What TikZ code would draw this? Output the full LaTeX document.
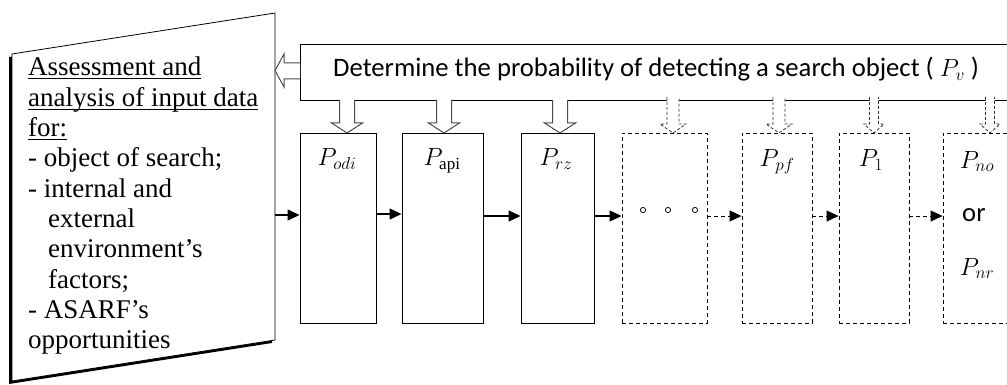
\documentclass[tikz,border=0pt]{standalone}
\usepackage{fontspec}
\setmainfont{Liberation Serif}
\newfontfamily\serf{Liberation Serif}
\newfontfamily\carl{Carlito}[Scale=1.16]
\usetikzlibrary{arrows.meta,calc}
\newcommand{\myul}[1]{\setbox0\hbox{#1}\rlap{\rule[-3.5pt]{\wd0}{1.1pt}}\box0}
% hollow down arrow: x, ytop, ytip, shaft half, head half, head length, options
\newcommand{\hdown}[7]{%
  \draw[#7] ({#1-#4},#2) -- ({#1-#4},{#3-#6}) -- ({#1-#5},{#3-#6}) -- (#1,#3)
    -- ({#1+#5},{#3-#6}) -- ({#1+#4},{#3-#6}) -- ({#1+#4},#2);}
\begin{document}
\begin{tikzpicture}[x=1pt,y=-1pt,
  solidbox/.style={draw=black, line width=0.9pt, inner sep=0pt},
  dashbox/.style={draw=black, line width=0.9pt, inner sep=0pt, dash pattern=on 4pt off 3pt},
  arr/.style={line width=1.1pt, -{Triangle[length=12pt,width=11pt]}},
  darr/.style={line width=1pt, dash pattern=on 4pt off 3pt, -{Triangle[length=12pt,width=11pt]}},
  hollow/.style={draw=black!70, line width=1pt, fill=white},
  dhollow/.style={draw=black!80, line width=0.8pt, fill=white, dash pattern=on 3pt off 2pt},
  lefttext/.style={anchor=base west, inner sep=0pt, font=\serf\fontsize{27}{30}\selectfont},
  plabel/.style={anchor=base, inner sep=0pt, font=\serf\fontsize{23}{26}\selectfont},
]
\useasboundingbox (0,0) rectangle (1007,385);
\clip (0,0) rectangle (1007,385);
\fill[white] (0,0) rectangle (1007,385);

% input shape with shadow
\fill[black] (9,57) -- (272,16) -- (272,343) -- (9,384) -- cycle;
\draw[fill=white, line width=0.8pt] (12,54) -- (275,13) -- (275,340) -- (12,381) -- cycle;
\coordinate (inR) at (275,215);

\node[lefttext] (t1) at (28,76) {\myul{Assessment and}};
\node[lefttext] (t2) at (28,106.3) {\myul{analysis of input data}};
\node[lefttext] (t3) at (28,136.6) {\myul{for:}};
\node[lefttext] (t4) at (28,166.9) {- object of search;};
\node[lefttext] (t5) at (28,197.2) {- internal and};
\node[lefttext] (t6) at (48,227.5) {external};
\node[lefttext] (t7) at (48,257.8) {environment’s};
\node[lefttext] (t8) at (48,288.1) {factors;};
\node[lefttext] (t9) at (28,318.4) {- ASARF’s};
\node[lefttext] (t10) at (28,348.7) {opportunities};

% Determine box
\node[solidbox, line width=1.2pt, minimum width=740pt, minimum height=56pt, anchor=north west] (det) at (300,44) {};
\node[anchor=base west, inner sep=0pt] (dettext) at (333,77)
  {{\carl\fontsize{23}{28}\selectfont Determine the probability of detecting a search object ( $P_v$ )}};

% hollow left arrow
\draw[hollow] (det.west |- 0,63) -- (284,63) -- (284,54) -- (275,70.5) -- (284,87) -- (284,79) -- (det.west |- 0,79);

% boxes
\node[solidbox, minimum width=76pt, minimum height=190pt] (podi) at (338,228) {};
\node[solidbox, minimum width=81pt, minimum height=190pt] (papi) at (442.5,228) {};
\node[solidbox, minimum width=73pt, minimum height=190pt] (prz) at (557.5,228) {};
\node[dashbox, minimum width=85pt, minimum height=190pt] (dots) at (664.5,228) {};
\node[dashbox, minimum width=70pt, minimum height=190pt] (ppf) at (777,228) {};
\node[dashbox, minimum width=70pt, minimum height=190pt] (p1) at (874,228) {};
\node[dashbox, minimum width=70pt, minimum height=190pt] (pno) at (978,228) {};

% labels
\node[plabel] (lpodi) at (337,166) {$P_{odi}$};
\node[plabel] (lpapi) at (442,166) {$P_{\hbox{\serf\fontsize{17}{17}\selectfont api}}$};
\node[plabel] (lprz) at (556,166) {$P_{rz}$};
\node[plabel] (lppf) at (777,167) {$P_{pf}$};
\node[plabel] (lp1) at (871,167) {$P_1$};
\node[plabel] (lpno) at (977,168) {$P_{no}$};
\node[plabel, anchor=base west] (lor) at (962,222) {{\carl\fontsize{23}{26}\selectfont or}};
\node[plabel] (lpnr) at (977,275) {$P_{nr}$};

% dots
\foreach \xx/\nm in {643/d1,668/d2,695/d3}
  \draw[line width=0.8pt] (\xx,210) circle (2.6pt) coordinate (\nm);

% hollow down arrows
\hdown{347}{100}{133}{7.5}{15.5}{10}{hollow}
\hdown{444}{100}{133}{7.5}{15.5}{10}{hollow}
\hdown{560}{100}{133}{7.5}{15.5}{10}{hollow}
\hdown{673}{97}{133}{6}{13}{9}{dhollow}
\hdown{779}{97}{133}{6}{13}{9}{dhollow}
\hdown{874}{97}{133}{4.5}{10}{9}{dhollow}
\hdown{990}{97}{133}{4.5}{10}{9}{dhollow}

% horizontal arrows
\coordinate (ar) at (0,216);
\draw[arr] (inR) -- (inR -| podi.west);
\draw[arr] (podi.east |- 0,214) -- (papi.west |- 0,214);
\draw[arr] (papi.east |- ar) -- (prz.west |- ar);
\draw[arr] (prz.east |- ar) -- (dots.west |- ar);
\draw[darr] (dots.east |- ar) -- (ppf.west |- ar);
\draw[darr] (ppf.east |- ar) -- (p1.west |- ar);
\draw[darr] (p1.east |- ar) -- (pno.west |- ar);
\end{tikzpicture}
\end{document}
